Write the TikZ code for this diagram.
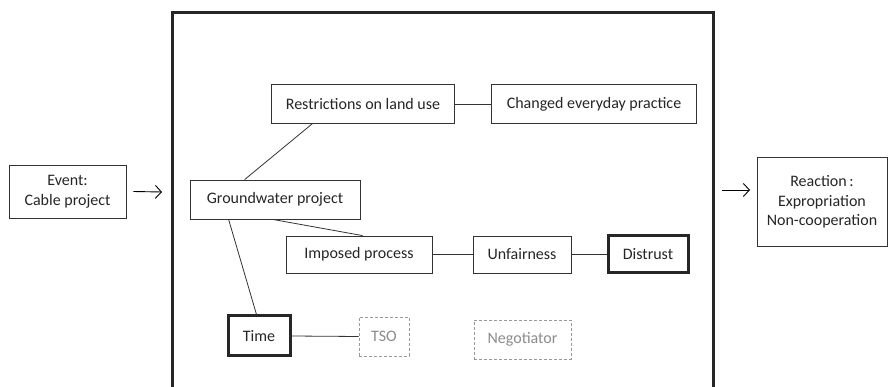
\documentclass[tikz,border=0pt]{standalone}
\usepackage{fontspec}
\setmainfont{Carlito}
\usetikzlibrary{arrows.meta}
\begin{document}
\begin{tikzpicture}[x=1pt,y=-1pt,
  every node/.style={font=\fontsize{16}{19.5}\selectfont, text=black!85, inner sep=0pt, align=center},
  box/.style={draw=black!80, line width=0.8pt, minimum width=#1},
  heavy/.style={draw=black!85, line width=3pt, minimum width=#1},
  ghost/.style={draw=black!40, dashed, dash pattern=on 3pt off 2pt, line width=0.8pt, text=black!45, minimum width=#1},
  link/.style={draw=black!80, line width=0.8pt},
  flow/.style={draw=black, line width=0.9pt, -{Straight Barb[length=6pt,width=13pt]}}
]
\useasboundingbox (0,0) rectangle (895,387);
\fill[white] (0,0) rectangle (895,387);

% surrounding frame, open at the bottom
\draw[line width=3pt, black!85] (172,387) -- (172,13) -- (713,13) -- (713,387);

% outer boxes
\node[box=117pt, minimum height=53pt] (event) at (67.5,191.5) {Event:\\Cable project};
\node[box=130pt, minimum height=89pt] (reaction) at (822,202) {Reaction\,:\\Expropriation\\Non-cooperation};

% arrows into and out of the frame
\coordinate (inA) at (162,192);
\coordinate (outA) at (722,190);
\coordinate (outB) at (750,190);
\draw[flow] ([xshift=7pt]event.east) -- (inA);
\draw[flow] (outA) -- (outB);

% inner boxes
\node[box=183pt, minimum height=39pt] (restr) at (363,104) {Restrictions on land use};
\node[box=205pt, minimum height=39pt] (changed) at (594,104) {Changed everyday practice};
\node[box=170pt, minimum height=39pt] (ground) at (275,199.5) {Groundwater project};
\node[box=146pt, minimum height=37pt] (imposed) at (359,254.5) {Imposed process};
\node[box=98pt, minimum height=37pt] (unfair) at (522,254.5) {Unfairness};
\node[heavy=80pt, minimum height=37pt] (distrust) at (648,254.5) {Distrust};
\node[heavy=62pt, minimum height=40pt] (time) at (259,336) {Time};
\node[ghost=50pt, minimum height=39pt] (tso) at (384,336.5) {TSO};
\node[ghost=97pt, minimum height=39pt] (neg) at (522.5,339.5) {Negotiator};

% connectors
\draw[link] (restr.east) -- (changed.west);
\draw[link] ([xshift=41pt]restr.south west) -- ([xshift=55pt]ground.north west);
\draw[link] ([xshift=83pt]ground.south west) -- ([xshift=77pt]imposed.north west);
\draw[link] ([xshift=39pt]ground.south west) -- ([xshift=30pt]time.north west);
\draw[link] (imposed.east) -- (unfair.west);
\draw[link] (unfair.east) -- (distrust.west);
\draw[link] (time.east) -- (tso.west);
\end{tikzpicture}
\end{document}
